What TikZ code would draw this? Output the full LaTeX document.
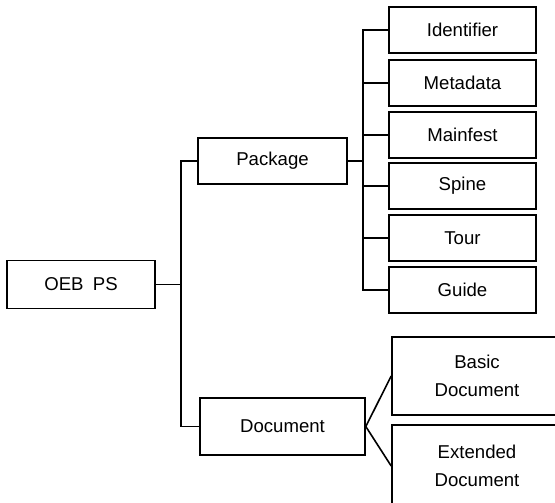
\documentclass[tikz,border=0pt]{standalone}
\usepackage{fontspec}
\setmainfont{Liberation Sans}

\tikzset{
  part/.style={draw, line width=0.8pt, inner sep=0pt, align=center,
    font=\fontsize{9.3}{14}\selectfont},
  leaf/.style={part, minimum width=73.5pt, minimum height=23pt},
  link/.style={line width=0.8pt}
}

\begin{document}
\begin{tikzpicture}[x=0.5pt, y=-0.5pt]

% Frame of the picture
\useasboundingbox (0,0) rectangle (555,502);
\clip (0,0) rectangle (555,502);

% Root box
\node[part, minimum width=74pt, minimum height=24pt] (oeb) at (81,284.5) {OEB\enspace PS};

% Second level
\node[part, minimum width=74.5pt, minimum height=23pt] (package) at (272.5,161) {Package};
\node[part, minimum width=82.5pt, minimum height=28.5pt] (document) at (282.5,426.5) {Document};

% Parts of the package
\foreach \name/\txt/\y in {identifier/Identifier/30, metadata/Metadata/83,
    mainfest/Mainfest/135, spine/Spine/186, tour/Tour/238, guide/Guide/290} {
  \node[leaf] (\name) at (462.5,\y) {\txt};
}

% Parts of the document (cut by the right edge)
\node[part, minimum width=85pt, minimum height=39pt] (basic) at (477,376) {Basic\\Document};
\node[part, minimum width=85pt, minimum height=41pt] (extended) at (477,466) {Extended\\Document};

% Joints of the tree
\coordinate (rootjoint) at (181,284.5);
\coordinate (packjoint) at (363,161);

% Connectors
\draw[link] (oeb.east) -- (rootjoint);
\draw[link] (package.west) -| (rootjoint) |- (document.west);
\draw[link] (package.east) -- (packjoint);
\foreach \name in {identifier, metadata, mainfest, spine, tour, guide} {
  \draw[link] (packjoint) |- (\name.west);
}
\draw[link] (basic.west) -- (document.east) -- (extended.west);

\end{tikzpicture}
\end{document}
